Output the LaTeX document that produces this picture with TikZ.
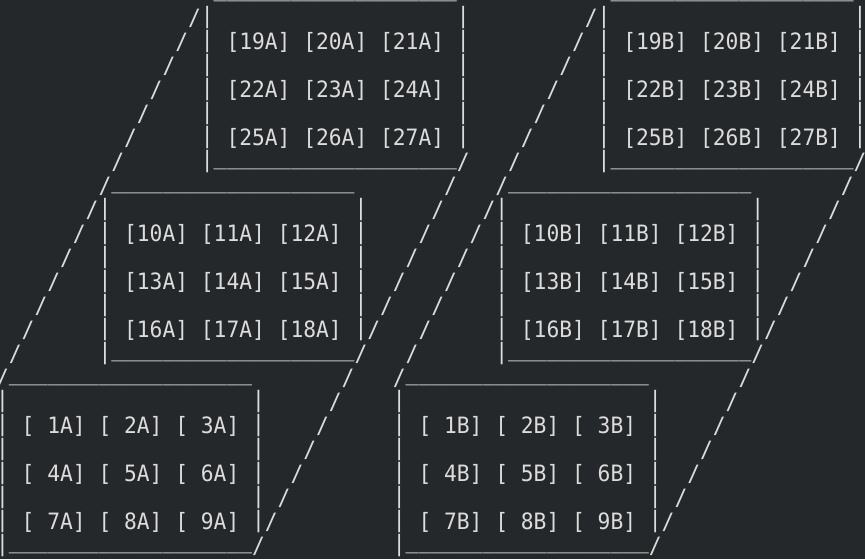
\documentclass[tikz,border=0pt]{standalone}
\usepackage{fontspec}
\newfontfamily\asciifont[FakeStretch=0.945]{DejaVu Sans Mono}
\definecolor{bg}{HTML}{25282A}
\definecolor{fg}{HTML}{DCDCDC}
\newcommand\usline{\_\_\_\_\_\_\_\_\_\_\_\_\_\_\_\_\_\_\_}
\newcommand\lab[2]{[\ifnum#1<10 \hphantom{0}\fi#1#2]}
\newcommand\chr[5]{\node[#1] (#2) at ({-3.9+12.8*(#3)},{1+24*(#4)}) {#5};}
\tikzset{
  glyph/.style={inner sep=0pt, outer sep=0pt, anchor=base west, text=fg,
    font=\asciifont\fontsize{11.25}{12}\selectfont},
  uline/.style={glyph, yshift=2.5pt},
  vbar/.style={glyph, yshift=1pt},
}
\begin{document}
\begin{tikzpicture}[x=0.5pt,y=-0.5pt]
\fill[bg] (0,0) rectangle (865,559);
\useasboundingbox (0,0) rectangle (865,559);
\foreach \off/\s in {0/A,31/B} {
  % long diagonals
  \foreach \r in {1,...,16} {\chr{glyph}{ld\s\r}{16-\r+\off}{\r}{/}}
  \foreach \r in {7,...,23} {\chr{glyph}{rd\s\r}{43-\r+\off}{\r}{/}}
  % the three boxes
  \foreach \c/\r/\k/\n in {16/0/t/19,8/8/m/10,0/16/b/1} {
    \chr{uline}{top\s\k}{\c+1+\off}{\r}{\usline}
    \chr{uline}{bot\s\k}{\c+1+\off}{\r+7}{\usline}
    \foreach \i in {1,...,7} {\chr{vbar}{lb\s\k\i}{\c+\off}{\r+\i}{|}}
    \foreach \i in {1,...,6} {\chr{vbar}{rb\s\k\i}{\c+20+\off}{\r+\i}{|}}
    \foreach \j in {0,1,2} {
      \foreach \i in {0,1,2} {
        \pgfmathtruncatemacro\num{\n+3*\j+\i}
        \chr{glyph}{lab\s\num}{\c+2+6*\i+\off}{\r+2+2*\j}{\lab{\num}{\s}}
      }
    }
  }
}
\end{tikzpicture}
\end{document}
